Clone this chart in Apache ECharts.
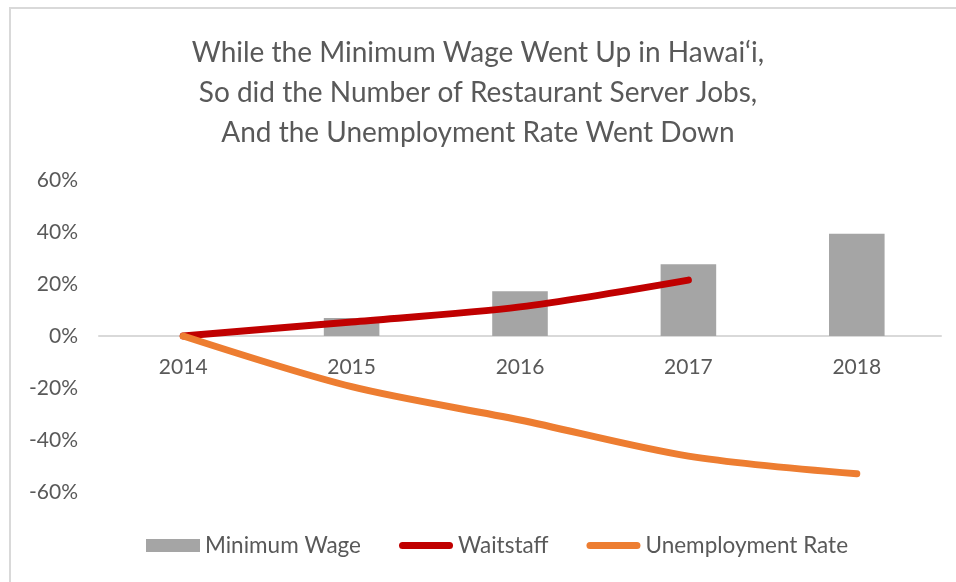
<!DOCTYPE html>
<html>
<head>
<meta charset="utf-8">
<script src="https://cdn.jsdelivr.net/npm/echarts@6/dist/echarts.min.js"></script>
<style>
  html, body { margin: 0; padding: 0; background: #ffffff; }
  #chart { width: 956px; height: 582px; }
</style>
</head>
<body>
<div id="chart"></div>
<script>
const years = ['2014', '2015', '2016', '2017', '2018']
const minimumWage = [0, 0.069, 0.172, 0.276, 0.393]
const waitstaff = [0, 0.054, 0.112, 0.215, null]
const unemploymentRate = [0, -0.195, -0.323, -0.462, -0.53]
const yTicks = { min: -0.6, max: 0.6, step: 0.2 }

const textColor = '#595959'
const fontFamily = 'Lato, "Open Sans", sans-serif'
// thick rounded bar used as the legend icon for the line series
const lineIcon = 'path://M3.5,0 H50.5 A3.5,3.5 0 0 1 50.5,7 H3.5 A3.5,3.5 0 0 1 3.5,0 Z'

const chart = echarts.init(document.getElementById('chart'))

const option = {
  backgroundColor: '#ffffff',
  textStyle: { fontFamily: fontFamily, color: textColor },
  title: {
    text: 'While the Minimum Wage Went Up in Hawai\u2018i,\nSo did the Number of Restaurant Server Jobs,\nAnd the Unemployment Rate Went Down',
    left: 'center',
    top: 28,
    textStyle: {
      fontFamily: fontFamily,
      fontSize: 28,
      fontWeight: 'normal',
      color: textColor,
      lineHeight: 40,
      align: 'center'
    }
  },
  graphic: [
    {
      type: 'rect',
      shape: { x: 10, y: 8, width: 1000, height: 700 },
      style: { fill: 'none', stroke: '#d9d9d9', lineWidth: 2 },
      silent: true
    }
  ],
  legend: {
    top: 534,
    left: 146,
    itemWidth: 54,
    itemHeight: 13,
    itemGap: 38,
    padding: 0,
    symbolKeepAspect: true,
    textStyle: { fontFamily: fontFamily, fontSize: 22.5, color: textColor },
    data: [
      { name: 'Minimum Wage', icon: 'rect' },
      { name: 'Waitstaff', icon: lineIcon },
      { name: 'Unemployment Rate', icon: lineIcon }
    ]
  },
  grid: {
    left: 99,
    right: 15,
    top: 180,
    bottom: 90
  },
  xAxis: {
    type: 'category',
    data: years,
    offset: -156,
    axisLine: { onZero: false, lineStyle: { color: '#d9d9d9', width: 2 } },
    axisTick: { show: false },
    axisLabel: { color: textColor, fontSize: 21, margin: 21, fontFamily: fontFamily }
  },
  yAxis: {
    type: 'value',
    min: yTicks.min,
    max: yTicks.max,
    interval: yTicks.step,
    axisLine: { show: false },
    axisTick: { show: false },
    splitLine: { show: false },
    axisLabel: {
      color: textColor,
      fontSize: 21,
      margin: 21,
      fontFamily: fontFamily,
      formatter: v => Math.round(v * 100) + '%'
    }
  },
  series: [
    {
      name: 'Minimum Wage',
      type: 'bar',
      data: minimumWage,
      barWidth: '33%',
      itemStyle: { color: '#a5a5a5' }
    },
    {
      name: 'Waitstaff',
      type: 'line',
      data: waitstaff,
      smooth: 0.3,
      symbol: 'none',
      lineStyle: { color: '#c00000', width: 7, cap: 'round', join: 'round' },
      itemStyle: { color: '#c00000' }
    },
    {
      name: 'Unemployment Rate',
      type: 'line',
      data: unemploymentRate,
      smooth: 0.3,
      symbol: 'none',
      lineStyle: { color: '#ed7d31', width: 7, cap: 'round', join: 'round' },
      itemStyle: { color: '#ed7d31' }
    }
  ]
}

chart.setOption(option)
</script>
</body>
</html>
